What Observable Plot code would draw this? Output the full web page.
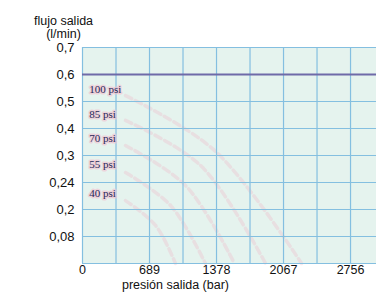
<!DOCTYPE html>
<html>
<head>
<meta charset="utf-8">
<script src="https://cdn.jsdelivr.net/npm/d3@7"></script>
<script src="https://cdn.jsdelivr.net/npm/@observablehq/plot@0.6"></script>
<style>
  html, body { margin: 0; padding: 0; background: #fff; }
  svg { display: block; }
</style>
</head>
<body>
<div id="chart"></div>
<script>
// X tick values (bar) and grid step
const xTicks = [0, 689, 1378, 2067, 2756];
const xGrid = [0, 344.5, 689, 1033.5, 1378, 1722.5, 2067, 2411.5, 2756];
// Y tick labels (equally spaced on the chart, bottom to top)
const yLabels = ["0,08", "0,2", "0,24", "0,3", "0,4", "0,5", "0,6", "0,7"];
const yIndex = [1, 2, 3, 4, 5, 6, 7, 8];
// Maximum flow line (at "0,6")
const flowLevel = 7;
// Pressure labels and their faint curves
const psiLabels = ["100 psi", "85 psi", "70 psi", "55 psi", "40 psi"];
const psiLevel = [6.44, 5.52, 4.63, 3.67, 2.59];
const curveStartX = [442, 442, 442, 442, 442];
const curveStartY = [6.22, 5.30, 4.37, 3.37, 2.33];
const curveMidX = [1357, 1214, 1059, 905, 751];
const curveMidY = [4.19, 3.63, 2.89, 2.15, 1.41];
const curveEndX = [2253, 1882, 1563, 1264, 956];

const curves = psiLabels.flatMap((p, i) => [
  {x: curveStartX[i], y: curveStartY[i], p},
  {x: curveMidX[i], y: curveMidY[i], p},
  {x: curveEndX[i], y: 0, p}
]);

const chart = Plot.plot({
  width: 376,
  height: 293,
  marginLeft: 82,
  marginRight: 0,
  marginTop: 47,
  marginBottom: 30,
  style: {fontFamily: "'Liberation Sans', Arial, sans-serif", fontSize: "13px", background: "#fff", color: "#111", overflow: "visible"},
  x: {domain: [0, 3023]},
  y: {domain: [0, 8]},
  marks: [
    Plot.frame({fill: "#e5f3ee", stroke: null}),
    Plot.line(curves, {x: "x", y: "y", z: "p", curve: "catmull-rom", stroke: "#efb2c2", strokeOpacity: 0.3, strokeWidth: 3.5, strokeDasharray: "7,4"}),
    Plot.ruleX(xGrid, {stroke: "#84bfe0", strokeWidth: 1.2}),
    Plot.ruleY([0, ...yIndex], {stroke: "#84bfe0", strokeWidth: 1.2}),
    Plot.ruleY([flowLevel], {stroke: "#6f6aa8", strokeWidth: 2}),
    Plot.text(psiLabels, {x: 70, y: (d, i) => psiLevel[i], text: d => d, textAnchor: "start",
      fontFamily: "'Liberation Serif', 'DejaVu Serif', serif", fontSize: 11, fill: "#1f2858",
      stroke: "#f2c0cf", strokeWidth: 3, strokeOpacity: 0.6}),
    Plot.axisY(yIndex, {tickSize: 0, tickPadding: 8, tickFormat: i => yLabels[i - 1], label: null, fontSize: 13}),
    Plot.axisX(xTicks, {tickSize: 0, tickPadding: 2, tickFormat: d => String(d), label: null, fontSize: 12.5}),
    Plot.text(["presión salida (bar)"], {frameAnchor: "bottom", dx: -54, dy: 25, fontSize: 12.5, fill: "#111"}),
    Plot.text(["flujo salida\n(l/min)"], {x: -195, y: 8.76, textAnchor: "middle", lineAnchor: "middle", lineHeight: 1.08, fontSize: 12.5, fill: "#111", clip: false})
  ]
});
document.getElementById("chart").append(chart);
</script>
</body>
</html>
